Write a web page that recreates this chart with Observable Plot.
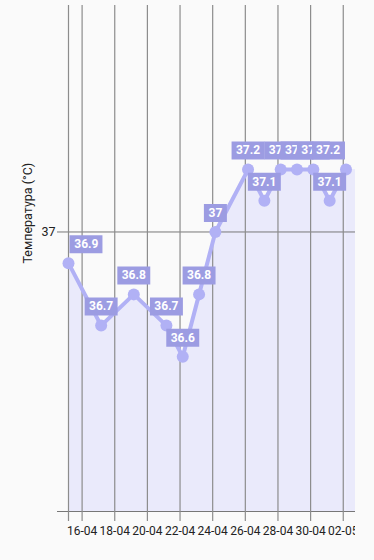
<!DOCTYPE html>
<html>
<head>
<meta charset="utf-8">
<script src="https://cdn.jsdelivr.net/npm/d3@7"></script>
<script src="https://cdn.jsdelivr.net/npm/@observablehq/plot@0.6"></script>
<style>
  html, body { margin: 0; padding: 0; background: #fafafa; }
  #chart { width: 374px; height: 560px; overflow: hidden; }
</style>
</head>
<body>
<div id="chart"></div>
<script>
// ---- data ----
const dates = ["2024-04-15T04:00", "2024-04-17T04:00", "2024-04-19T04:00", "2024-04-21T04:00",
  "2024-04-22T04:00", "2024-04-23T04:00", "2024-04-24T04:00", "2024-04-26T04:00",
  "2024-04-27T04:00", "2024-04-28T04:00", "2024-04-29T04:00", "2024-04-30T04:00",
  "2024-05-01T04:00", "2024-05-02T04:00"];
const temps = [36.9, 36.7, 36.8, 36.7, 36.6, 36.8, 37, 37.2, 37.1, 37.2, 37.2, 37.2, 37.1, 37.2];
const tickDates = ["2024-04-16", "2024-04-18", "2024-04-20", "2024-04-22", "2024-04-24",
  "2024-04-26", "2024-04-28", "2024-04-30", "2024-05-02"];
const tickLabels = ["16-04", "18-04", "20-04", "22-04", "24-04", "26-04", "28-04", "30-04", "02-05"];
const yTicks = [37];
const yTickLabels = ["37"];
const yLabel = "Температура (°C)";

// ---- scales / styles ----
const parse = s => new Date(s);
const data = dates.map((d, i) => ({date: parse(d), t: temps[i]}));
const ticks = tickDates.map(d => parse(d + "T00:00"));
const labelOf = new Map(ticks.map((d, i) => [+d, tickLabels[i]]));
const yLabelOf = new Map(yTicks.map((d, i) => [d, yTickLabels[i]]));
const xStart = data[0].date;
const xEnd = parse("2024-05-02T18:00");
const yDomain = [36.104, 37.726];

const lineColor = "#b1b1f5";
const fillColor = "#eaeafb";
const boxColor = "#9c9ce2";
const gridColor = "#8c8c8c";

function boxSymbol(w, h, anchor) {
  const x0 = anchor === "start" ? 1 : anchor === "end" ? -1 - w : -w / 2;
  return {draw(ctx) { ctx.rect(x0, -h / 2, w, h); }};
}
function textWidth(s) {
  let w = 0;
  for (const c of s) w += c === "." ? 3.2 : 6.75;
  return w;
}

const n = data.length;
const labelMarks = data.flatMap((d, i) => {
  const s = String(d.t);
  const w = textWidth(s) + 9.5;
  const anchor = i === 0 ? "start" : i === n - 1 ? "end" : "middle";
  const dx = anchor === "start" ? 1 + 4.75 : anchor === "end" ? -1 - 4.75 : 0;
  return [
    Plot.dot([d], {x: "date", y: "t", dy: -19, r: 1, symbol: boxSymbol(w, 18, anchor), fill: boxColor, stroke: null}),
    Plot.text([d], {x: "date", y: "t", dy: -19, dx, text: () => s, textAnchor: anchor,
      fill: "white", fontWeight: "bold", fontSize: 12})
  ];
});

const chart = Plot.plot({
  width: 355,
  height: 560,
  marginLeft: 68,
  marginRight: 0,
  marginTop: 5,
  marginBottom: 49,
  style: {background: "#fafafa", fontFamily: "Roboto, sans-serif", fontSize: "12px", overflow: "hidden", color: "#222"},
  x: {type: "time", domain: [xStart, xEnd]},
  y: {domain: yDomain},
  marks: [
    Plot.areaY(data, {x: "date", y1: yDomain[0], y2: "t", fill: fillColor}),
    Plot.rect([data[n - 1]], {x1: "date", x2: () => xEnd, y1: yDomain[0], y2: "t", fill: fillColor}),
    Plot.ruleY([yDomain[0], ...yTicks], {stroke: "#777", strokeWidth: 1}),
    Plot.ruleX([xStart, ...ticks], {stroke: gridColor, strokeWidth: 1.2, insetBottom: -10}),
    Plot.axisY(yTicks, {tickSize: 11, tickPadding: 2, tickFormat: d => yLabelOf.get(d), stroke: "#777", fill: "#222", fontSize: 12.5, label: null}),
    Plot.axisY([yDomain[0]], {tickSize: 11, tickFormat: () => "", stroke: "#777", label: null}),
    Plot.axisX(ticks, {tickSize: 0, tickPadding: 15, tickFormat: d => labelOf.get(+d), fill: "#222", fontSize: 12, label: null}),
    Plot.text([yLabel], {frameAnchor: "left", rotate: -90, dx: -41, dy: 5, fontSize: 12.5, fill: "#222"}),
    Plot.line(data, {x: "date", y: "t", stroke: lineColor, strokeWidth: 4}),
    Plot.dot(data, {x: "date", y: "t", r: 6, fill: lineColor, stroke: null}),
    ...labelMarks
  ]
});
document.getElementById("chart").append(chart);
</script>
</body>
</html>
